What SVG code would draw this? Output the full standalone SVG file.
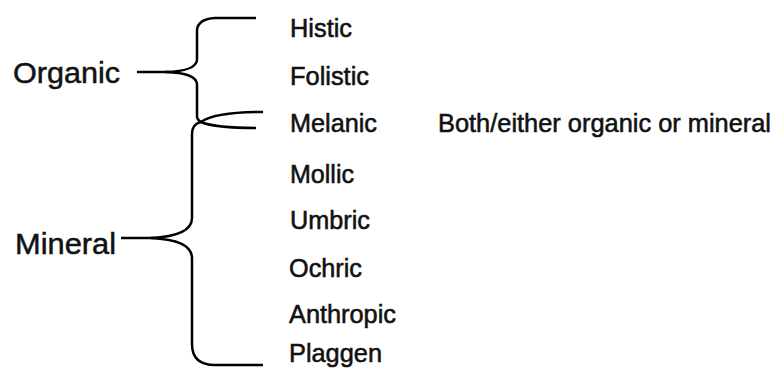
<svg xmlns="http://www.w3.org/2000/svg" width="776" height="376" viewBox="0 0 776 376">
<style>
.br{fill:none;stroke:#000;stroke-width:2.5;stroke-linecap:butt;stroke-linejoin:round}
.big{font-family:"Liberation Sans",Arial,sans-serif;font-size:30px;fill:#111;stroke:#111;stroke-width:0.5}
.lab{font-family:"Liberation Sans",Arial,sans-serif;font-size:25.5px;fill:#111;stroke:#111;stroke-width:0.55}
</style>
<rect width="776" height="376" fill="#fff"/>
<g id="connectors">
<path class="br" d="M256,18 L215,18 Q198,19 197,30 L197,60 Q196,71 166,72 Q196,73 197,84 L197,117 Q198,121 201,122"/>
<path class="br" d="M201,122 Q215,112 263,112"/>
<path class="br" d="M201,122 Q215,128 256,128"/>
<path class="br" d="M201,122 Q192,124 192,134 L192,218 Q192,236 151,238 Q192,240 192,258 L192,344 Q192,365 215,365 L263,365"/>
<path class="br" d="M137,72 L169,72"/>
<path class="br" d="M121,238 L154,238"/>
</g>
<g id="organic"><text class="big" x="13" y="83" textLength="107" lengthAdjust="spacingAndGlyphs">Organic</text></g>
<g id="mineral"><text class="big" x="15" y="254" textLength="101" lengthAdjust="spacingAndGlyphs">Mineral</text></g>
<g id="histic"><text class="lab" x="290" y="37" textLength="62" lengthAdjust="spacingAndGlyphs">Histic</text></g>
<g id="folistic"><text class="lab" x="290" y="85" textLength="79" lengthAdjust="spacingAndGlyphs">Folistic</text></g>
<g id="melanic"><text class="lab" x="290" y="132" textLength="87" lengthAdjust="spacingAndGlyphs">Melanic</text></g>
<g id="note"><text class="lab" x="438" y="132" textLength="333" lengthAdjust="spacingAndGlyphs">Both/either organic or mineral</text></g>
<g id="mollic"><text class="lab" x="290" y="183" textLength="64" lengthAdjust="spacingAndGlyphs">Mollic</text></g>
<g id="umbric"><text class="lab" x="290" y="229" textLength="80" lengthAdjust="spacingAndGlyphs">Umbric</text></g>
<g id="ochric"><text class="lab" x="289" y="277" textLength="73" lengthAdjust="spacingAndGlyphs">Ochric</text></g>
<g id="anthropic"><text class="lab" x="289" y="323" textLength="107" lengthAdjust="spacingAndGlyphs">Anthropic</text></g>
<g id="plaggen"><text class="lab" x="289" y="362" textLength="93" lengthAdjust="spacingAndGlyphs">Plaggen</text></g>
</svg>
